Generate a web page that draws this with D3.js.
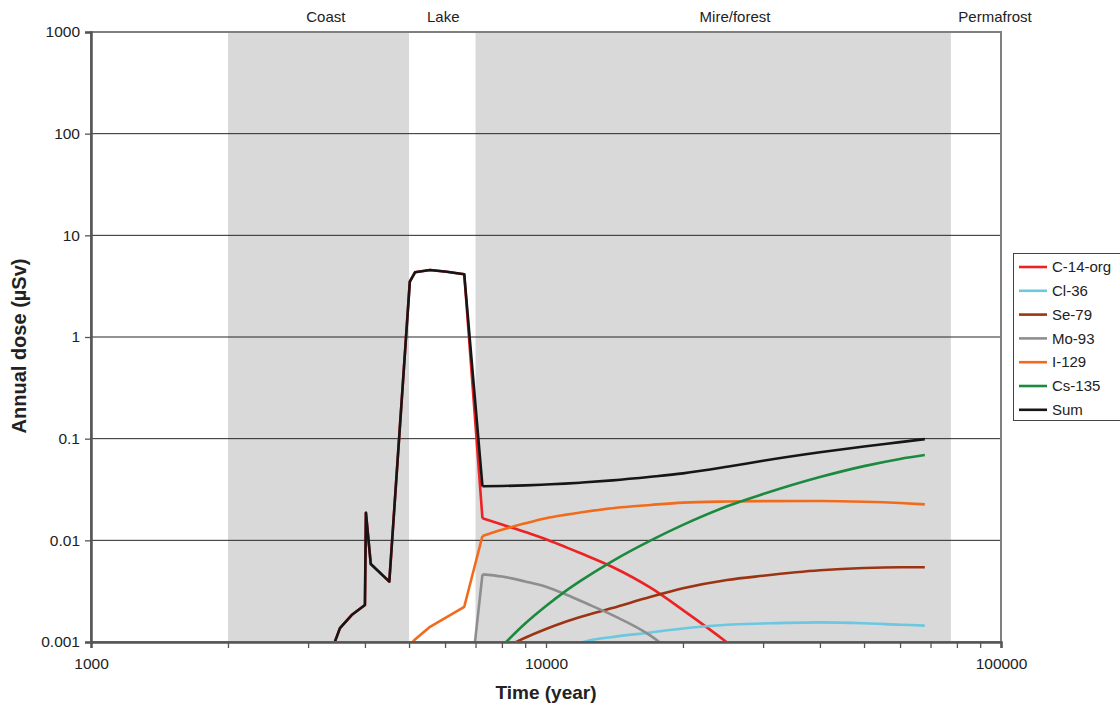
<!DOCTYPE html>
<html>
<head>
<meta charset="utf-8">
<script src="https://cdn.jsdelivr.net/npm/d3@7"></script>
<style>
  body { margin: 0; background: #fff; }
  text { font-family: "Liberation Sans", Arial, sans-serif; fill: #222; }
</style>
</head>
<body>
<svg id="chart" width="1120" height="711"></svg>
<script>
// Time steps (years after closure) shared by all series
const years = [3300, 3525, 3740, 4000, 4020, 4120, 4525, 5020, 5153, 5560, 6050, 6612,
               7250, 8000, 9000, 10000, 11000, 12000, 14000, 17000, 20000, 25000,
               30000, 40000, 50000, 60000, 68000];

// Annual dose per radionuclide (µSv); null = not reported at that step
const c14org = [0.00062, 0.00137, 0.00184, 0.00231, 0.0187, 0.00585, 0.00392, 3.50, 4.33, 4.56, 4.39, 4.14,
                0.01647, 0.01431, 0.01208, 0.01026, 0.00864, 0.00737, 0.00547, 0.00340, 0.00206, 0.00099,
                0.00052, 0.00015, null, null, null];
const cl36   = [null, null, null, null, null, null, null, null, null, null, null, null,
                null, null, null, 0.0006, 0.0008, 0.00099, 0.00112, 0.00124, 0.00136, 0.00148,
                0.00152, 0.00156, 0.00153, 0.00148, 0.00145];
const se79   = [null, null, null, null, null, null, null, null, null, null, null, null,
                null, 0.00085, 0.00110, 0.00134, 0.00157, 0.00178, 0.00216, 0.00278, 0.00337, 0.00407,
                0.00448, 0.00507, 0.00534, 0.00543, 0.00543];
const mo93   = [null, null, null, null, null, null, null, null, null, null, null, 0.00011,
                0.00463, 0.00441, 0.00394, 0.00350, 0.00297, 0.00250, 0.00184, 0.00115, 0.00064, null,
                null, null, null, null, null];
const i129   = [null, null, null, null, null, null, null, 0.00093, 0.00106, 0.00141, 0.00176, 0.00222,
                0.01103, 0.0127, 0.0147, 0.0165, 0.0178, 0.0189, 0.0207, 0.0223, 0.0235, 0.0241,
                0.0243, 0.0244, 0.0240, 0.0233, 0.0226];
const cs135  = [null, null, null, null, null, null, null, null, null, null, null, null,
                null, 0.00091, 0.00152, 0.00226, 0.00313, 0.00408, 0.00626, 0.0100, 0.0142, 0.0216,
                0.0285, 0.0419, 0.0537, 0.0632, 0.0690];
const sum    = [0.00062, 0.00137, 0.00184, 0.00231, 0.0187, 0.00585, 0.00392, 3.50, 4.33, 4.56, 4.39, 4.14,
                0.0340, 0.0342, 0.0347, 0.0354, 0.0361, 0.0370, 0.0389, 0.0422, 0.0456, 0.0529,
                0.0606, 0.0734, 0.0839, 0.0925, 0.0990];

const seriesNames  = ["C-14-org", "Cl-36", "Se-79", "Mo-93", "I-129", "Cs-135", "Sum"];
const seriesValues = [c14org, cl36, se79, mo93, i129, cs135, sum];
const seriesColors = ["#ec2224", "#6cc7e0", "#9c3414", "#8e8e90", "#f26b1d", "#1c8a3e", "#161616"];

// Landscape development periods
const periodNames  = ["Coast", "Lake", "Mire/forest", "Permafrost"];
const periodStart  = [2000, 5000, 7000, 77600];
const periodEnd    = [5000, 7000, 77600, 100000];
const periodShaded = [true, false, true, false];
const periodLabelAt = [3282, 5947, 26030, 97000];

// Axis ticks
const yTicks = [0.001, 0.01, 0.1, 1, 10, 100, 1000];
const yTickLabels = ["0.001", "0.01", "0.1", "1", "10", "100", "1000"];
const xMajor = [1000, 10000, 100000];
const xMajorLabels = ["1000", "10000", "100000"];
const xMinor = [2000, 3000, 4000, 5000, 6000, 7000, 8000, 9000,
                20000, 30000, 40000, 50000, 60000, 70000, 80000, 90000];

// The release pulse is drawn segment by segment; the slow tail after it is smoothed
const smoothFrom = 7250;

const svg = d3.select("#chart");
const plotLeft = 91, plotRight = 1001, plotTop = 32, plotBottom = 642;

const x = d3.scaleLog().domain([1000, 100000]).range([plotLeft, plotRight]);
const y = d3.scaleLog().domain([0.001, 1000]).range([plotBottom, plotTop]);

// Period shading
svg.append("g").selectAll("rect")
  .data(periodNames.map((n, i) => ({ n, s: periodStart[i], e: periodEnd[i], shaded: periodShaded[i] }))
        .filter(d => d.shaded))
  .join("rect")
  .attr("x", d => x(d.s)).attr("width", d => x(d.e) - x(d.s))
  .attr("y", plotTop).attr("height", plotBottom - plotTop)
  .attr("fill", "#d9d9d9");

// Period labels
svg.append("g").selectAll("text")
  .data(periodNames)
  .join("text")
  .attr("x", (d, i) => x(periodLabelAt[i]))
  .attr("y", 22)
  .attr("text-anchor", "middle")
  .attr("font-size", 15)
  .text(d => d);

// Horizontal gridlines
svg.append("g").selectAll("line")
  .data(yTicks.slice(1, -1))
  .join("line")
  .attr("x1", plotLeft).attr("x2", plotRight)
  .attr("y1", d => y(d)).attr("y2", d => y(d))
  .attr("stroke", "#262626").attr("stroke-width", 1);

// Data lines, clipped to the plot area
svg.append("clipPath").attr("id", "plotClip")
  .append("rect").attr("x", plotLeft).attr("y", plotTop)
  .attr("width", plotRight - plotLeft).attr("height", plotBottom - plotTop);

const lineSharp = d3.line()
  .defined(d => d[1] != null)
  .x(d => x(d[0]))
  .y(d => y(d[1]));
const lineSmooth = d3.line()
  .defined(d => d[1] != null)
  .curve(d3.curveMonotoneX)
  .x(d => x(d[0]))
  .y(d => y(d[1]));

const k = years.indexOf(smoothFrom);
const seriesData = seriesValues.map((vals, i) => {
  const pts = years.map((t, j) => [t, vals[j]]);
  return { color: seriesColors[i], early: pts.slice(0, k + 1), late: pts.slice(k) };
});

const gLines = svg.append("g").attr("clip-path", "url(#plotClip)");
const sg = gLines.selectAll("g").data(seriesData).join("g");
sg.append("path")
  .attr("d", d => lineSharp(d.early) || "")
  .attr("fill", "none")
  .attr("stroke", d => d.color)
  .attr("stroke-width", 2.6)
  .attr("stroke-linejoin", "round");
sg.append("path")
  .attr("d", d => lineSmooth(d.late) || "")
  .attr("fill", "none")
  .attr("stroke", d => d.color)
  .attr("stroke-width", 2.6)
  .attr("stroke-linejoin", "round");

// Plot frame
svg.append("rect")
  .attr("x", plotLeft).attr("y", plotTop)
  .attr("width", plotRight - plotLeft).attr("height", plotBottom - plotTop)
  .attr("fill", "none").attr("stroke", "#7f7f7f").attr("stroke-width", 2);

// Y axis
const yAxis = d3.axisLeft(y)
  .tickValues(yTicks)
  .tickFormat((d, i) => yTickLabels[i])
  .tickSize(6).tickPadding(5);
const gy = svg.append("g").attr("transform", `translate(${plotLeft},0)`).call(yAxis);
gy.select(".domain").attr("stroke", "#555").attr("stroke-width", 2.5);
gy.selectAll(".tick line").attr("stroke", "#555").attr("stroke-width", 1.3);
gy.selectAll(".tick text").attr("font-size", 15.5).attr("font-family", "Liberation Sans, Arial, sans-serif").attr("fill", "#222");

// X axis: major labelled ticks and minor ticks
const xAxis = d3.axisBottom(x)
  .tickValues(xMajor)
  .tickFormat((d, i) => xMajorLabels[i])
  .tickSize(6).tickPadding(10);
const gx = svg.append("g").attr("transform", `translate(0,${plotBottom})`).call(xAxis);
gx.select(".domain").attr("stroke", "#555").attr("stroke-width", 2.5);
gx.selectAll(".tick line").attr("stroke", "#555").attr("stroke-width", 1.3);
gx.selectAll(".tick text").attr("font-size", 15.5).attr("font-family", "Liberation Sans, Arial, sans-serif").attr("fill", "#222");

const gxMinor = svg.append("g").attr("transform", `translate(0,${plotBottom})`)
  .call(d3.axisBottom(x).tickValues(xMinor).tickFormat("").tickSize(6));
gxMinor.select(".domain").remove();
gxMinor.selectAll(".tick line").attr("stroke", "#555").attr("stroke-width", 1.3);

// Axis titles
svg.append("text")
  .attr("x", (plotLeft + plotRight) / 2).attr("y", 699)
  .attr("text-anchor", "middle")
  .attr("font-size", 19).attr("font-weight", "bold")
  .text("Time (year)");

svg.append("text")
  .attr("transform", `translate(26,346) rotate(-90)`)
  .attr("text-anchor", "middle")
  .attr("font-size", 20).attr("font-weight", "bold")
  .text("Annual dose (µSv)");

// Legend
const legend = svg.append("g");
legend.append("rect")
  .attr("x", 1013.5).attr("y", 253.5)
  .attr("width", 130).attr("height", 167)
  .attr("fill", "#fff").attr("stroke", "#444").attr("stroke-width", 1);
const items = legend.selectAll("g.item")
  .data(seriesNames)
  .join("g").attr("class", "item")
  .attr("transform", (d, i) => `translate(1019,${267 + i * 23.8})`);
items.append("line")
  .attr("x1", 0).attr("x2", 28)
  .attr("stroke", (d, i) => seriesColors[i]).attr("stroke-width", 2.6);
items.append("text")
  .attr("x", 33).attr("dy", "0.35em")
  .attr("font-size", 15)
  .text(d => d);
</script>
</body>
</html>
